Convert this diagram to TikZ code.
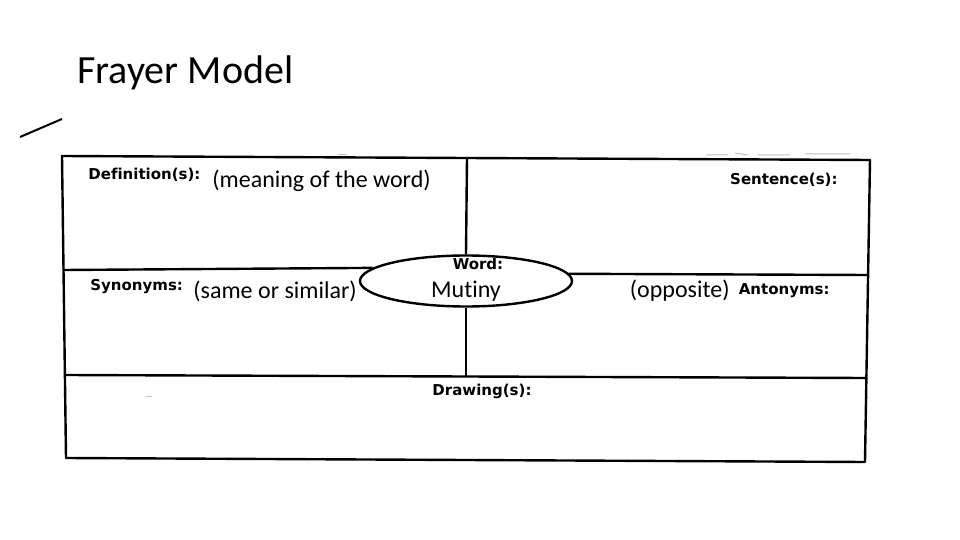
\documentclass[tikz,border=0pt]{standalone}
\usepackage{fontspec}
\setmainfont{Carlito}[Ligatures=NoCommon]
\newfontfamily\formfont{DejaVu Sans}[Ligatures=NoCommon]
\usetikzlibrary{shapes.geometric}
\begin{document}
\begin{tikzpicture}[
  x=0.5pt, y=-0.5pt,
  frame/.style={line width=1.2pt, line join=round},
  formlabel/.style={font=\formfont\bfseries\fontsize{7.5}{9}\selectfont, inner sep=0pt},
  entry/.style={font=\fontsize{12}{14}\selectfont, inner sep=0pt},
  wordbox/.style={ellipse, draw, line width=1.2pt, minimum width=106pt, minimum height=25.5pt, inner sep=0pt, fill=white},
  speck/.style={black!25, line width=0.5pt}
]
  \useasboundingbox (0,0) rectangle (960,540);
  \node[anchor=base west, inner sep=0pt, font=\fontsize{20}{22}\selectfont] (title) at (77,84) {Frayer Model};

  % corners of the chart
  \coordinate (tl) at (62,156);
  \coordinate (tr) at (870,160);
  \coordinate (br) at (865,462);
  \coordinate (bl) at (66,458);
  \coordinate (ml) at (63,270);
  \coordinate (mr) at (868,275);
  \coordinate (dl) at (65,375);
  \coordinate (dr) at (866,378);
  \coordinate (tm) at (467,158);
  \coordinate (dm) at (466,377);

  \draw[frame] (tl) -- (tr) -- (br) -- (bl) -- cycle;
  \draw[frame] (dl) -- (dr);

  \node[wordbox] (word) at (466,281) {};
  \draw[frame] (ml) -- (word.172);
  \draw[frame] (word.4) -- (mr);
  \draw[frame] (tm) -- (word.north);
  \draw[frame] (word.south) -- (dm);

  \node[formlabel, anchor=west] (defn) at (88,175) {Definition(s):};
  \node[formlabel, anchor=east] (sent) at (838,180) {Sentence(s):};
  \node[formlabel, anchor=west] (syn) at (90,287) {Synonyms:};
  \node[formlabel, anchor=east] (ant) at (830,291) {Antonyms:};
  \node[formlabel] (draw) at (482,391) {Drawing(s):};
  \node[formlabel] (wlab) at (478,264) {Word:};

  \node[entry, anchor=west] (meaning) at (212,181) {(meaning of the word)};
  \node[entry, anchor=west] (same) at (193,291) {(same or similar)};
  \node[entry, anchor=east] (opp) at (730,291) {(opposite)};
  \node[entry] (mutiny) at (466,291) {Mutiny};

  % pen stroke and scan specks
  \draw[line width=1pt] (20,137) -- (62,119);
  \draw[speck] (338,155) -- (346,155);
  \draw[speck] (706,155) -- (728,155) (735,153) -- (748,155) (758,155) -- (790,155) (805,154) -- (850,154);
  \draw[speck] (146,396) -- (152,396);
\end{tikzpicture}
\end{document}
